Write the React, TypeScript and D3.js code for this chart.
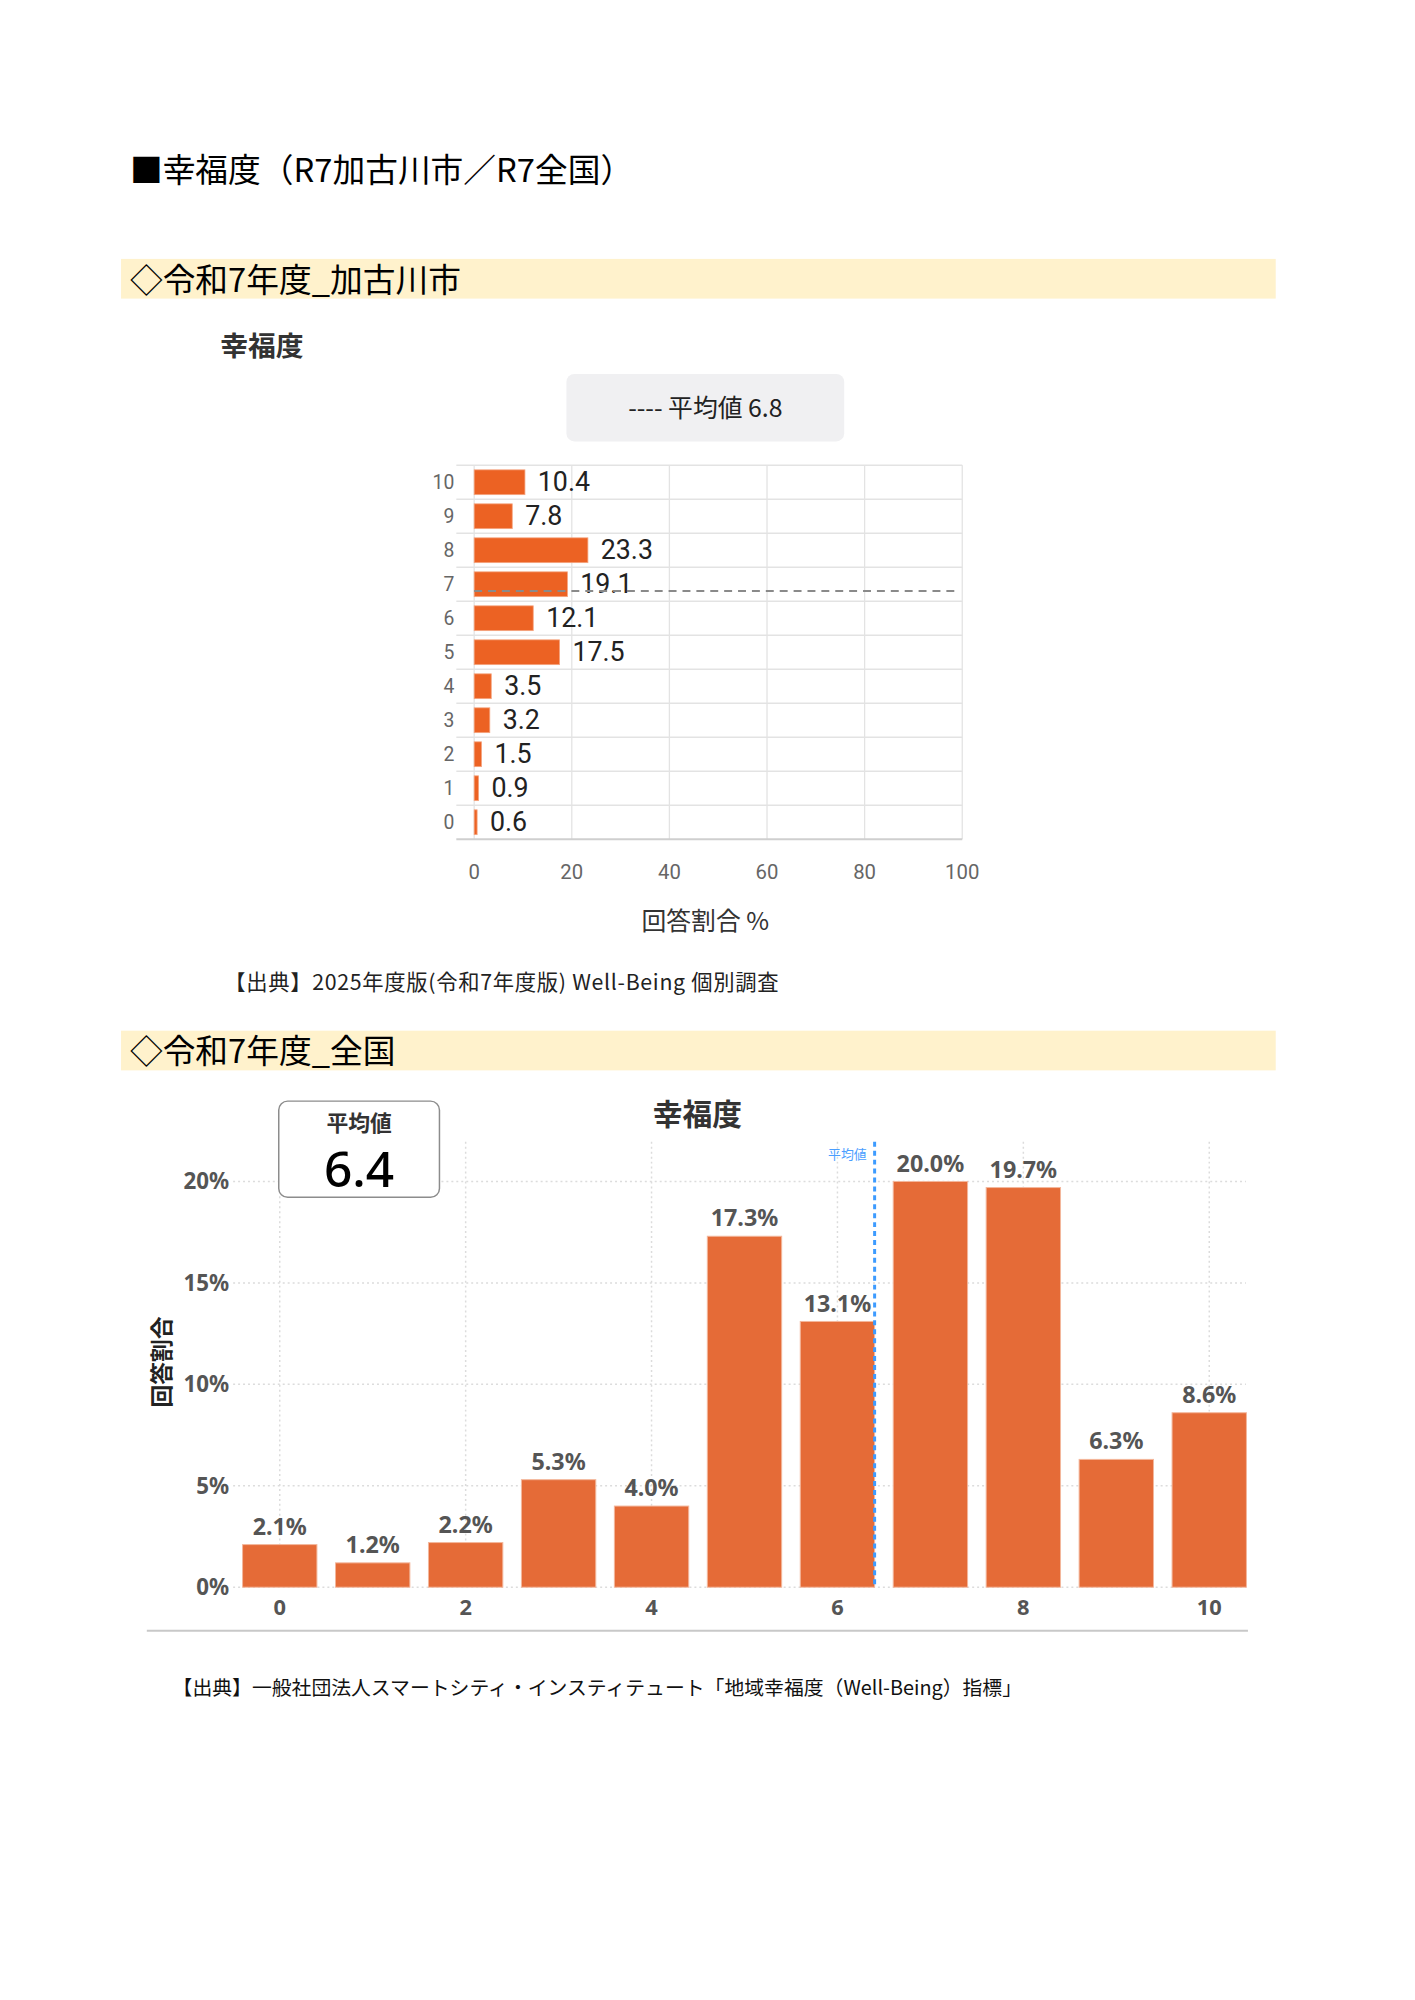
import React from "react";
import * as d3 from "d3";

// ---------- Data ----------
const cityCategories = ["0", "1", "2", "3", "4", "5", "6", "7", "8", "9", "10"];
const cityValues = [0.6, 0.9, 1.5, 3.2, 3.5, 17.5, 12.1, 19.1, 23.3, 7.8, 10.4];
const cityMean = 6.8;
const cityXTicks = [0, 20, 40, 60, 80, 100];

const nationCategories = ["0", "1", "2", "3", "4", "5", "6", "7", "8", "9", "10"];
const nationValues = [2.1, 1.2, 2.2, 5.3, 4.0, 17.3, 13.1, 20.0, 19.7, 6.3, 8.6];
const nationMean = 6.4;
const nationYTicks = [0, 5, 10, 15, 20];
const nationXTickLabels = ["0", "2", "4", "6", "8", "10"];

const JP = "'Noto Sans CJK JP', 'Noto Sans', sans-serif";
const ROBOTO = "Roboto, 'Liberation Sans', Arial, sans-serif";
const NS = "'Noto Sans', 'Open Sans', sans-serif";

export default function App() {
  // chart 1 scales
  const x1 = d3.scaleLinear().domain([0, 100]).range([478, 970]);
  const y1 = d3.scaleLinear().domain([-0.5, 10.5]).range([846, 469]);
  const rowLines = d3.range(-1, 11).map((k) => k + 0.5);

  // chart 2 scales
  const x2 = d3
    .scaleBand<string>()
    .domain(nationCategories)
    .range([235.15, 1265.85])
    .paddingInner(0.2)
    .paddingOuter(0.1);
  const y2 = d3.scaleLinear().domain([0, 20]).range([1600, 1191]);
  const meanX2 = d3
    .scaleLinear()
    .domain([0, 10])
    .range([x2("0")! + x2.bandwidth() / 2, x2("10")! + x2.bandwidth() / 2]);

  return (
    <svg
      width={1415}
      height={2000}
      style={{ position: "absolute", left: 0, top: 0, background: "#fff" }}
    >
      <g transform="scale(0.992)">
        {/* Page title */}
        <text x={131} y={183} fontFamily={JP} fontSize={33} fill="#000">
          ■幸福度（R7加古川市／R7全国）
        </text>

        {/* Section band 1 */}
        <rect x={122} y={261} width={1164} height={40} fill="#fff2cc" />
        <text x={131} y={294} fontFamily={JP} fontSize={33} fill="#000">
          ◇令和7年度_加古川市
        </text>

        {/* Chart 1 title */}
        <text x={222} y={359} fontFamily={JP} fontSize={28} fontWeight={700} fill="#333">
          幸福度
        </text>

        {/* Legend box */}
        <rect x={571} y={377} width={280} height={68} rx={8} fill="#f0f0f2" />
        <text
          x={711}
          y={420}
          textAnchor="middle"
          fontFamily={JP}
          fontSize={25}
          fill="#222"
        >
          ---- 平均値 6.8
        </text>

        {/* Chart 1 grid */}
        {cityXTicks.map((t) => (
          <line
            key={"v" + t}
            x1={x1(t)}
            x2={x1(t)}
            y1={y1(10.5)}
            y2={y1(-0.5)}
            stroke="#e3e3e3"
            strokeWidth={1.3}
          />
        ))}
        {rowLines.map((r) => (
          <line
            key={"h" + r}
            x1={460}
            x2={x1(100)}
            y1={y1(r)}
            y2={y1(r)}
            stroke={r === -0.5 ? "#cfcfcf" : "#e3e3e3"}
            strokeWidth={r === -0.5 ? 2 : 1.3}
          />
        ))}

        {/* Chart 1 bars */}
        {cityValues.map((v, i) => {
          const cy = y1(+cityCategories[i]);
          return (
            <g key={"b1" + i}>
              <rect
                x={x1(0)}
                y={cy - 12.5}
                width={Math.max(x1(v) - x1(0), 1.5)}
                height={25}
                fill="#ec6223"
                stroke="#f5a47f"
                strokeWidth={0.8}
              />
              <text
                x={x1(v) + 13}
                y={cy + 9}
                fontFamily={ROBOTO}
                fontSize={27}
                fill="#222"
              >
                {v.toFixed(1)}
              </text>
            </g>
          );
        })}

        {/* Chart 1 mean line */}
        <line
          x1={x1(0)}
          x2={x1(99)}
          y1={y1(cityMean)}
          y2={y1(cityMean)}
          stroke="#8a8a8a"
          strokeWidth={2}
          strokeDasharray="8 6"
        />

        {/* Chart 1 y tick labels */}
        {cityCategories.map((c) => (
          <text
            key={"yt" + c}
            x={458}
            y={y1(+c) + 7}
            textAnchor="end"
            fontFamily={ROBOTO}
            fontSize={19.5}
            fill="#666"
          >
            {c}
          </text>
        ))}
        {/* Chart 1 x tick labels */}
        {cityXTicks.map((t) => (
          <text
            key={"xt" + t}
            x={x1(t)}
            y={886}
            textAnchor="middle"
            fontFamily={ROBOTO}
            fontSize={20.5}
            fill="#666"
          >
            {t}
          </text>
        ))}
        <text
          x={711}
          y={938}
          textAnchor="middle"
          fontFamily={JP}
          fontSize={25}
          fill="#333"
        >
          回答割合 %
        </text>

        {/* Source 1 */}
        <text
          x={226}
          y={998}
          fontFamily={JP}
          fontSize={21.5}
          letterSpacing={0.7}
          fill="#222"
        >
          【出典】2025年度版(令和7年度版) Well-Being 個別調査
        </text>

        {/* Section band 2 */}
        <rect x={122} y={1039} width={1164} height={40} fill="#fff2cc" />
        <text x={131} y={1072} fontFamily={JP} fontSize={33} fill="#000">
          ◇令和7年度_全国
        </text>

        {/* Chart 2 title */}
        <text
          x={703}
          y={1134}
          textAnchor="middle"
          fontFamily={JP}
          fontSize={30}
          fontWeight={700}
          fill="#333"
        >
          幸福度
        </text>

        {/* Chart 2 grid */}
        {nationYTicks.map((t) => (
          <line
            key={"g2h" + t}
            x1={235}
            x2={1256}
            y1={y2(t)}
            y2={y2(t)}
            stroke="#dcdcdc"
            strokeWidth={1.5}
            strokeDasharray="2 3"
          />
        ))}
        {nationXTickLabels.map((c) => {
          const cx = x2(c)! + x2.bandwidth() / 2;
          return (
            <line
              key={"g2v" + c}
              x1={cx}
              x2={cx}
              y1={1151}
              y2={y2(0)}
              stroke="#dcdcdc"
              strokeWidth={1.5}
              strokeDasharray="2 3"
            />
          );
        })}

        {/* Average box */}
        <rect
          x={281}
          y={1110}
          width={162}
          height={97}
          rx={9}
          fill="#fff"
          stroke="#8c8c8c"
          strokeWidth={1.5}
        />
        <text
          x={362}
          y={1140}
          textAnchor="middle"
          fontFamily={JP}
          fontSize={22}
          fontWeight={700}
          fill="#333"
        >
          平均値
        </text>
        <text
          x={362}
          y={1197}
          textAnchor="middle"
          fontFamily={NS}
          fontSize={50}
          fontWeight={500}
          fill="#000"
        >
          {nationMean.toFixed(1)}
        </text>

        {/* Chart 2 bars */}
        {nationValues.map((v, i) => {
          const c = nationCategories[i];
          const bx = x2(c)!;
          return (
            <g key={"b2" + i}>
              <rect
                x={bx}
                y={y2(v)}
                width={x2.bandwidth()}
                height={y2(0) - y2(v)}
                fill="#e56b37"
                stroke="#f3b79c"
                strokeWidth={1}
              />
              <text
                x={bx + x2.bandwidth() / 2}
                y={y2(v) - 10}
                textAnchor="middle"
                fontFamily={NS}
                fontSize={23.5}
                fontWeight={700}
                fill="#555"
              >
                {v.toFixed(1) + "%"}
              </text>
            </g>
          );
        })}

        {/* Mean line chart 2 */}
        <line
          x1={meanX2(nationMean)}
          x2={meanX2(nationMean)}
          y1={1151}
          y2={y2(0)}
          stroke="#3d9bff"
          strokeWidth={3}
          strokeDasharray="5 4"
        />
        <text
          x={meanX2(nationMean) - 8}
          y={1168}
          textAnchor="end"
          fontFamily={JP}
          fontSize={13}
          fill="#4a9eff"
        >
          平均値
        </text>

        {/* Chart 2 y tick labels */}
        {nationYTicks.map((t) => (
          <text
            key={"y2t" + t}
            x={231}
            y={y2(t) + 8}
            textAnchor="end"
            fontFamily={NS}
            fontSize={22.5}
            fontWeight={700}
            fill="#555"
          >
            {t + "%"}
          </text>
        ))}
        {/* Chart 2 x tick labels */}
        {nationXTickLabels.map((c) => (
          <text
            key={"x2t" + c}
            x={x2(c)! + x2.bandwidth() / 2}
            y={1628}
            textAnchor="middle"
            fontFamily={NS}
            fontSize={22}
            fontWeight={700}
            fill="#555"
          >
            {c}
          </text>
        ))}
        {/* Y axis title */}
        <text
          transform="translate(171,1373) rotate(-90)"
          textAnchor="middle"
          fontFamily={JP}
          fontSize={23}
          fontWeight={700}
          fill="#222"
        >
          回答割合
        </text>

        {/* Bottom axis line */}
        <line x1={148} x2={1258} y1={1644} y2={1644} stroke="#c8c8c8" strokeWidth={2} />

        {/* Source 2 */}
        <text x={174} y={1709} fontFamily={JP} fontSize={20} fill="#111">
          【出典】一般社団法人スマートシティ・インスティテュート「地域幸福度（Well-Being）指標」
        </text>
      </g>
    </svg>
  );
}
